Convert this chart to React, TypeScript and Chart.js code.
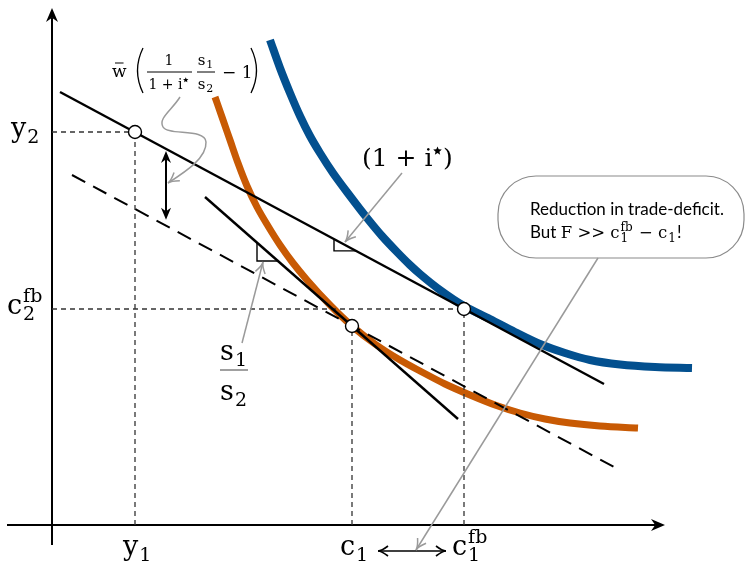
import React, { useEffect, useRef } from 'react';
import { Chart, registerables } from 'chart.js';
Chart.register(...registerables);

const MATH = '"DejaVu Serif", serif';
const TEXT = 'Lato, "Open Sans", sans-serif';

// visible window (data units)
const xWindow = [-0.52, 6.94];
const yWindow = [-0.36, 5.25];
// axis extents
const xAxisEnds = [-0.45, 6.13];
const yAxisEnds = [-0.2, 5.17];

// key values
const y1 = 0.83;
const y2 = 3.93;
const c1 = 3.0;
const c2 = 1.99;
const c1fb = 4.12;
const c2fb = 2.16;

// straight lines (endpoints)
const budgetX = [0.08, 5.52];
const budgetY = [4.33, 1.41];
const shiftedX = [0.2, 5.62];
const shiftedY = [3.5, 0.58];
const tangentX = [1.53, 4.06];
const tangentY = [3.28, 1.06];

// indifference curves
const orangeX = [1.63, 1.7, 1.78, 1.86, 1.95, 2.05, 2.16, 2.28, 2.41, 2.55, 2.78, 3.0, 3.23, 3.48, 3.68, 3.93, 4.18, 4.43, 4.68, 4.93, 5.18, 5.48, 5.86];
const orangeY = [4.28, 4.08, 3.85, 3.62, 3.39, 3.18, 2.99, 2.8, 2.62, 2.45, 2.2, 1.99, 1.81, 1.65, 1.54, 1.41, 1.3, 1.2, 1.12, 1.06, 1.02, 0.99, 0.97];
const blueX = [2.18, 2.28, 2.38, 2.48, 2.58, 2.68, 2.81, 2.98, 3.15, 3.3, 3.45, 3.58, 3.68, 3.88, 4.12, 4.38, 4.63, 4.88, 5.13, 5.38, 5.68, 6.03, 6.4];
const blueY = [4.85, 4.57, 4.32, 4.09, 3.89, 3.72, 3.52, 3.29, 3.07, 2.89, 2.73, 2.6, 2.51, 2.35, 2.19, 2.06, 1.93, 1.81, 1.72, 1.65, 1.605, 1.58, 1.57];

// highlighted points
const dotX = [y1, c1, c1fb];
const dotY = [y2, c2, c2fb];

const BLUE = '#03508f';
const ORANGE = '#c85a04';
const GRAY = '#9a9a9a';

const pts = (xs: number[], ys: number[]) => xs.map((x, i) => ({ x, y: ys[i] }));
const onLine = (xs: number[], ys: number[], x: number) =>
  ys[0] + ((x - xs[0]) / (xs[1] - xs[0])) * (ys[1] - ys[0]);

function filledHead(ctx: CanvasRenderingContext2D, tx: number, ty: number, fx: number, fy: number, len: number, hw: number) {
  const dx = tx - fx, dy = ty - fy;
  const L = Math.hypot(dx, dy);
  const ux = dx / L, uy = dy / L;
  const bx = tx - ux * len, by = ty - uy * len;
  ctx.beginPath();
  ctx.moveTo(tx, ty);
  ctx.lineTo(bx - uy * hw, by + ux * hw);
  ctx.lineTo(tx - ux * len * 0.7, ty - uy * len * 0.7);
  ctx.lineTo(bx + uy * hw, by - ux * hw);
  ctx.closePath();
  ctx.fill();
}

function openHead(ctx: CanvasRenderingContext2D, tx: number, ty: number, fx: number, fy: number, len: number, hw: number) {
  const dx = tx - fx, dy = ty - fy;
  const L = Math.hypot(dx, dy);
  const ux = dx / L, uy = dy / L;
  const bx = tx - ux * len, by = ty - uy * len;
  ctx.beginPath();
  ctx.moveTo(bx - uy * hw, by + ux * hw);
  ctx.quadraticCurveTo(tx - ux * len * 0.35, ty - uy * len * 0.35, tx, ty);
  ctx.quadraticCurveTo(tx - ux * len * 0.35, ty - uy * len * 0.35, bx + uy * hw, by - ux * hw);
  ctx.stroke();
}

function star(ctx: CanvasRenderingContext2D, cx: number, cy: number, r: number) {
  ctx.beginPath();
  for (let i = 0; i < 10; i++) {
    const a = -Math.PI / 2 + (i * Math.PI) / 5;
    const rr = i % 2 === 0 ? r : r * 0.45;
    const px = cx + rr * Math.cos(a), py = cy + rr * Math.sin(a);
    if (i === 0) ctx.moveTo(px, py); else ctx.lineTo(px, py);
  }
  ctx.closePath();
  ctx.fill();
}

type Part = { t?: string; size: number; sub?: string; sup?: string; family?: string; dy?: number; gap?: number; star?: number };

function drawSeq(ctx: CanvasRenderingContext2D, x: number, y: number, parts: Part[]) {
  let cx = x;
  for (const p of parts) {
    const fam = p.family || MATH;
    if (p.star) {
      star(ctx, cx + p.star + 0.5, y + (p.dy || 0), p.star);
      cx += p.star * 2 + 1.5;
      continue;
    }
    if (p.t) {
      ctx.font = `${p.size}px ${fam}`;
      ctx.fillText(p.t, cx, y + (p.dy || 0));
      cx += ctx.measureText(p.t).width;
    }
    if (p.sub || p.sup) {
      const s = Math.round(p.size * 0.7);
      ctx.font = `${s}px ${MATH}`;
      let w = 0;
      if (p.sub) {
        ctx.fillText(p.sub, cx + 1, y + p.size * 0.22);
        w = Math.max(w, ctx.measureText(p.sub).width);
      }
      if (p.sup) {
        ctx.fillText(p.sup, cx + 1, y - p.size * 0.45);
        w = Math.max(w, ctx.measureText(p.sup).width);
      }
      cx += w + 2;
    }
    if (p.gap) cx += p.gap;
  }
  return cx;
}

function centered(ctx: CanvasRenderingContext2D, cx: number, y: number, parts: Part[]) {
  const off = document.createElement('canvas').getContext('2d')!;
  const end = drawSeq(off, 0, 0, parts);
  drawSeq(ctx, cx - end / 2, y, parts);
}

const annotate = {
  id: 'annotate',
  beforeDatasetsDraw(chart: any) {
    const ctx: CanvasRenderingContext2D = chart.ctx;
    const X = (v: number) => chart.scales.x.getPixelForValue(v);
    const Y = (v: number) => chart.scales.y.getPixelForValue(v);
    ctx.save();
    ctx.strokeStyle = '#000';
    ctx.fillStyle = '#000';
    ctx.lineWidth = 2;
    ctx.beginPath();
    ctx.moveTo(X(0), Y(yAxisEnds[0]));
    ctx.lineTo(X(0), Y(yAxisEnds[1]) + 10);
    ctx.moveTo(X(xAxisEnds[0]), Y(0));
    ctx.lineTo(X(xAxisEnds[1]) - 10, Y(0));
    ctx.stroke();
    filledHead(ctx, X(0), Y(yAxisEnds[1]), X(0), Y(0), 14, 6);
    filledHead(ctx, X(xAxisEnds[1]), Y(0), X(0), Y(0), 14, 6);
    ctx.restore();
  },
  afterDatasetsDraw(chart: any) {
    const ctx: CanvasRenderingContext2D = chart.ctx;
    const X = (v: number) => chart.scales.x.getPixelForValue(v);
    const Y = (v: number) => chart.scales.y.getPixelForValue(v);
    ctx.save();
    ctx.lineJoin = 'miter';

    // right-angle slope markers
    ctx.strokeStyle = '#000';
    ctx.lineWidth = 1.4;
    const marker = (xs: number[], ys: number[], a: number, b: number) => {
      ctx.beginPath();
      ctx.moveTo(X(a), Y(onLine(xs, ys, a)));
      ctx.lineTo(X(a), Y(onLine(xs, ys, b)));
      ctx.lineTo(X(b), Y(onLine(xs, ys, b)));
      ctx.stroke();
    };
    marker(tangentX, tangentY, 2.05, 2.26);
    marker(budgetX, budgetY, 2.82, 3.04);

    // black double arrow between lines
    ctx.fillStyle = '#000';
    ctx.strokeStyle = '#000';
    ctx.lineWidth = 2;
    const ax = 1.14;
    const top = Y(onLine(budgetX, budgetY, ax)) + 2;
    const bot = Y(onLine(shiftedX, shiftedY, ax)) - 6;
    ctx.beginPath();
    ctx.moveTo(X(ax), top + 8);
    ctx.lineTo(X(ax), bot - 8);
    ctx.stroke();
    filledHead(ctx, X(ax), top, X(ax), bot, 12, 5);
    filledHead(ctx, X(ax), bot, X(ax), top, 12, 5);

    // horizontal double arrow below axis
    ctx.lineWidth = 1.6;
    const hy = Y(-0.26);
    ctx.beginPath();
    ctx.moveTo(X(3.26), hy);
    ctx.lineTo(X(3.94), hy);
    ctx.stroke();
    openHead(ctx, X(3.26), hy, X(3.94), hy, 10, 5);
    openHead(ctx, X(3.94), hy, X(3.26), hy, 10, 5);

    // bubble
    ctx.strokeStyle = '#8a8a8a';
    ctx.lineWidth = 1.2;
    ctx.fillStyle = '#fff';
    ctx.beginPath();
    (ctx as any).roundRect(X(4.46), Y(3.49), X(6.92) - X(4.46), Y(2.67) - Y(3.49), 38);
    ctx.fill();
    ctx.stroke();

    // gray arrows
    ctx.strokeStyle = GRAY;
    ctx.lineWidth = 1.5;
    const grayArrow = (x0: number, y0: number, x1: number, y1_: number) => {
      ctx.beginPath();
      ctx.moveTo(X(x0), Y(y0));
      ctx.lineTo(X(x1), Y(y1_));
      ctx.stroke();
      openHead(ctx, X(x1), Y(y1_), X(x0), Y(y0), 11, 5);
    };
    grayArrow(3.5, 3.52, 2.93, 2.83);
    grayArrow(1.9, 1.82, 2.11, 2.63);
    grayArrow(5.46, 2.67, 3.64, -0.25);
    // wiggly arrow
    ctx.beginPath();
    ctx.moveTo(X(1.28), Y(4.28));
    ctx.bezierCurveTo(X(1.2), Y(4.15), X(1.06), Y(4.07), X(1.11), Y(3.98));
    ctx.bezierCurveTo(X(1.16), Y(3.89), X(1.53), Y(3.97), X(1.54), Y(3.83));
    ctx.bezierCurveTo(X(1.55), Y(3.67), X(1.33), Y(3.53), X(1.16), Y(3.42));
    ctx.stroke();
    openHead(ctx, X(1.16), Y(3.42), X(1.3), Y(3.52), 11, 5);

    // texts
    ctx.fillStyle = '#000';
    ctx.textBaseline = 'alphabetic';
    ctx.textAlign = 'left';
    drawSeq(ctx, X(0) - 41, Y(y2) + 5, [{ t: 'y', size: 27, sub: '2' }]);
    drawSeq(ctx, X(0) - 45, Y(c2fb) + 5, [{ t: 'c', size: 27, sub: '2', sup: 'fb' }]);
    drawSeq(ctx, X(y1) - 12, Y(0) + 30, [{ t: 'y', size: 27, sub: '1' }]);
    drawSeq(ctx, X(c1) - 12, Y(0) + 30, [{ t: 'c', size: 27, sub: '1' }]);
    drawSeq(ctx, X(c1fb) - 12, Y(0) + 30, [{ t: 'c', size: 27, sub: '1', sup: 'fb' }]);

    // (1 + i*)
    drawSeq(ctx, X(3.1), Y(3.59), [
      { t: '(1 + i', size: 25 },
      { star: 4.5, size: 0, dy: -15 },
      { t: ')', size: 25 },
    ]);

    // s1 / s2
    const fx = X(1.82);
    centered(ctx, fx, Y(1.65), [{ t: 's', size: 27, sub: '1' }]);
    centered(ctx, fx, Y(1.25), [{ t: 's', size: 27, sub: '2' }]);
    ctx.strokeStyle = '#777';
    ctx.lineWidth = 1.4;
    ctx.beginPath();
    ctx.moveTo(fx - 14, Y(1.55));
    ctx.lineTo(fx + 14, Y(1.55));
    ctx.stroke();

    // w-bar expression
    ctx.fillStyle = '#000';
    const wb = Y(4.48);
    ctx.font = `17px ${MATH}`;
    ctx.fillText('w', X(0.6), wb);
    const ww = ctx.measureText('w').width;
    ctx.strokeStyle = '#000';
    ctx.lineWidth = 1;
    ctx.beginPath();
    ctx.moveTo(X(0.6) + 3, wb - 14);
    ctx.lineTo(X(0.6) + ww - 3, wb - 14);
    ctx.stroke();
    // parentheses
    ctx.lineWidth = 1.3;
    const pTop = Y(4.77), pBot = Y(4.32);
    const pl = X(0.87), pr = X(2.03);
    ctx.beginPath();
    ctx.moveTo(pl + 4, pTop);
    ctx.quadraticCurveTo(pl - 7, (pTop + pBot) / 2, pl + 4, pBot);
    ctx.moveTo(pr - 4, pTop);
    ctx.quadraticCurveTo(pr + 7, (pTop + pBot) / 2, pr - 4, pBot);
    ctx.stroke();
    // fraction 1/(1+i*)
    const f1 = X(1.17);
    centered(ctx, f1, Y(4.6), [{ t: '1', size: 14 }]);
    centered(ctx, f1, Y(4.36), [{ t: '1 + i', size: 14 }, { star: 2.8, size: 0, dy: -9 }]);
    ctx.lineWidth = 1;
    ctx.beginPath();
    ctx.moveTo(X(0.95), Y(4.53));
    ctx.lineTo(X(1.4), Y(4.53));
    ctx.stroke();
    const f2 = X(1.54);
    centered(ctx, f2, Y(4.6), [{ t: 's', size: 15, sub: '1' }]);
    centered(ctx, f2, Y(4.36), [{ t: 's', size: 15, sub: '2' }]);
    ctx.beginPath();
    ctx.moveTo(X(1.45), Y(4.53));
    ctx.lineTo(X(1.63), Y(4.53));
    ctx.stroke();
    ctx.font = `17px ${MATH}`;
    ctx.fillText('− 1', X(1.7), Y(4.47));

    // bubble text
    ctx.font = `17px ${TEXT}`;
    ctx.fillText('Reduction in trade-deficit.', X(4.78), Y(3.1));
    drawSeq(ctx, X(4.78), Y(2.87), [
      { t: 'But ', size: 17, family: TEXT },
      { t: 'F >> c', size: 16.5, sub: '1', sup: 'fb' },
      { t: ' − c', size: 16.5, sub: '1' },
      { t: '!', size: 17, family: TEXT },
    ]);
    ctx.restore();
  },
};

export default function App() {
  const ref = useRef<HTMLCanvasElement>(null);
  useEffect(() => {
    if (!ref.current) return;
    const guide = (data: any[]) => ({
      data,
      showLine: true,
      borderColor: '#333',
      borderWidth: 1.3,
      borderDash: [5, 4],
      pointRadius: 0,
      order: 3,
    });
    const chart = new Chart(ref.current, {
      type: 'scatter',
      data: {
        datasets: [
          {
            data: pts(dotX, dotY),
            pointRadius: 6.5,
            pointBackgroundColor: '#fff',
            pointBorderColor: '#000',
            pointBorderWidth: 1.4,
            showLine: false,
            order: 0,
          } as any,
          { data: pts(budgetX, budgetY), showLine: true, borderColor: '#000', borderWidth: 2.4, pointRadius: 0, order: 1 },
          { data: pts(tangentX, tangentY), showLine: true, borderColor: '#000', borderWidth: 2.4, pointRadius: 0, order: 1 },
          { data: pts(shiftedX, shiftedY), showLine: true, borderColor: '#000', borderWidth: 2, borderDash: [15, 9], pointRadius: 0, order: 1 },
          guide([{ x: 0, y: y2 }, { x: y1, y: y2 }]),
          guide([{ x: y1, y: 0 }, { x: y1, y: y2 }]),
          guide([{ x: 0, y: c2fb }, { x: c1fb, y: c2fb }]),
          guide([{ x: c1fb, y: 0 }, { x: c1fb, y: c2fb }]),
          guide([{ x: c1, y: 0 }, { x: c1, y: c2 }]),
          {
            data: pts(orangeX, orangeY),
            showLine: true,
            borderColor: ORANGE,
            borderWidth: 7,
            cubicInterpolationMode: 'monotone',
            pointRadius: 0,
            order: 4,
          },
          {
            data: pts(blueX, blueY),
            showLine: true,
            borderColor: BLUE,
            borderWidth: 8,
            cubicInterpolationMode: 'monotone',
            pointRadius: 0,
            order: 4,
          },
        ] as any,
      },
      options: {
        animation: false,
        responsive: false,
        devicePixelRatio: 1,
        layout: { padding: 0, autoPadding: false } as any,
        clip: false as any,
        scales: {
          x: { type: 'linear', min: xWindow[0], max: xWindow[1], display: false },
          y: { type: 'linear', min: yWindow[0], max: yWindow[1], display: false },
        },
        plugins: { legend: { display: false }, tooltip: { enabled: false } },
        events: [],
      },
      plugins: [annotate],
    });
    return () => chart.destroy();
  }, []);
  return (
    <div style={{ position: 'fixed', left: 0, top: 0, width: 746, height: 561, background: '#fff' }}>
      <canvas ref={ref} width={746} height={561} />
    </div>
  );
}
